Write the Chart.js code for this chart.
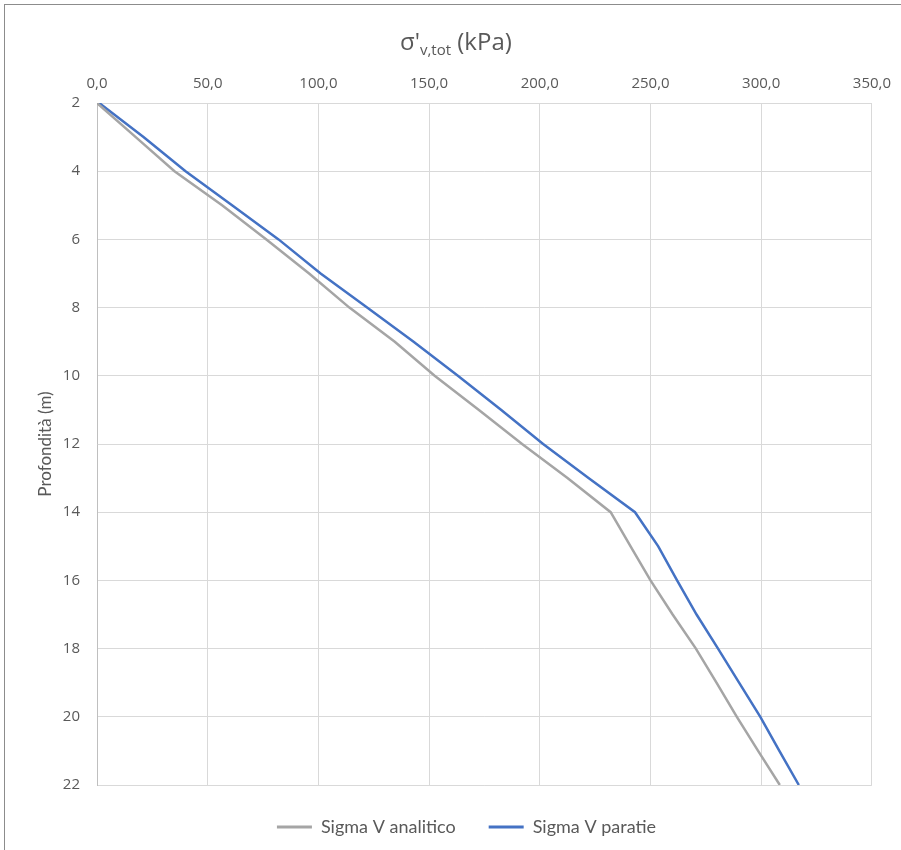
<!DOCTYPE html>
<html>
<head>
<meta charset="utf-8">
<script src="https://cdn.jsdelivr.net/npm/chart.js@4"></script>
<style>
  body { margin: 0; background: #fff; }
  #wrap { position: relative; width: 901px; height: 850px; }
  #frame {
    position: absolute; left: 4px; top: 4px; right: -10px; bottom: -10px;
    border-left: 1px solid #8c8c8c; border-top: 1px solid #8c8c8c;
    pointer-events: none;
  }
  #title {
    position: absolute; left: 400px; top: 29px;
    font-family: "Open Sans", sans-serif; font-size: 24px; line-height: 24px;
    color: #595959; white-space: nowrap;
  }
  #title sub { font-size: 15px; vertical-align: -5px; }
</style>
</head>
<body>
<div id="wrap">
  <canvas id="myChart" width="901" height="850"></canvas>
  <div id="title">σ'<sub>v,tot</sub> (kPa)</div>
  <div id="frame"></div>
</div>
<script>
// depth (m) and vertical effective stress (kPa)
var depth = [2, 3, 4, 5, 6, 7, 8, 9, 10, 11, 12, 13, 14, 15, 16, 17, 18, 19, 20, 21, 22];
var sigmaAnalitico = [0, 17.5, 35, 56.5, 76.5, 95.8, 114, 134.5, 152.5, 172.5, 192, 212.5, 232, 241, 250, 260, 270.5, 279.8, 289, 298.6, 308.4];
var sigmaParatie = [1, 21, 40, 61, 82, 101, 122, 143, 163, 182.6, 201.5, 222, 243, 253.5, 262, 270.8, 280.5, 290, 299.6, 308.2, 317];

var xTicks = [0, 50, 100, 150, 200, 250, 300, 350];
var yTicks = [2, 4, 6, 8, 10, 12, 14, 16, 18, 20, 22];

function toPoints(vals) {
  return vals.map((v, i) => ({ x: v, y: depth[i] }));
}

var textColor = "#595959";
var gridColor = "#d9d9d9";

// move the legend a bit to the right, like the original
var legendShift = {
  id: "legendShift",
  afterLayout(chart) {
    chart.legend.left += 30;
    chart.legend.right += 30;
  },
};

var ctx = document.getElementById("myChart").getContext("2d");
var myChart = new Chart(ctx, {
  type: "scatter",
  data: {
    datasets: [
      {
        label: "Sigma V analitico",
        data: toPoints(sigmaAnalitico),
        showLine: true,
        borderColor: "#a5a5a5",
        backgroundColor: "#a5a5a5",
        borderWidth: 2.5,
        pointRadius: 0,
        tension: 0,
      },
      {
        label: "Sigma V paratie",
        data: toPoints(sigmaParatie),
        showLine: true,
        borderColor: "#4472c4",
        backgroundColor: "#4472c4",
        borderWidth: 2.5,
        pointRadius: 0,
        tension: 0,
      },
    ],
  },
  plugins: [legendShift],
  options: {
    responsive: false,
    animation: false,
    layout: { padding: { left: 0, right: 28, top: 0, bottom: 4 } },
    plugins: {
      tooltip: { enabled: false },
      legend: {
        position: "bottom",
        labels: {
          color: textColor,
          font: { family: "Lato", size: 18 },
          boxWidth: 35,
          boxHeight: 3,
          padding: 33,
          generateLabels: function (chart) {
            var items = Chart.defaults.plugins.legend.labels.generateLabels(chart);
            items.forEach((it) => { it.lineWidth = 0; });
            return items;
          },
        },
      },
    },
    scales: {
      x: {
        type: "linear",
        position: "top",
        min: 0,
        max: 350,
        afterBuildTicks: (s) => { s.ticks = xTicks.map((v) => ({ value: v })); },
        afterFit: (s) => { s.height = 103; },
        ticks: {
          color: textColor,
          font: { family: "Open Sans", size: 15 },
          padding: 10,
          callback: (v) => v.toFixed(1).replace(".", ","),
        },
        grid: { color: gridColor, lineWidth: 1, drawTicks: false },
        border: { color: gridColor },
      },
      y: {
        type: "linear",
        reverse: true,
        min: 2,
        max: 22,
        afterBuildTicks: (s) => { s.ticks = yTicks.map((v) => ({ value: v })); },
        afterFit: (s) => { s.width = 97; },
        ticks: {
          color: textColor,
          font: { family: "Open Sans", size: 15 },
          padding: 17,
        },
        title: {
          display: true,
          text: "Profondità (m)",
          color: textColor,
          font: { family: "Lato", size: 17 },
          padding: { top: 35, bottom: 0 },
        },
        grid: { color: gridColor, lineWidth: 1, drawTicks: false },
        border: { color: "#bfbfbf" },
      },
    },
  },
});
</script>
</body>
</html>
